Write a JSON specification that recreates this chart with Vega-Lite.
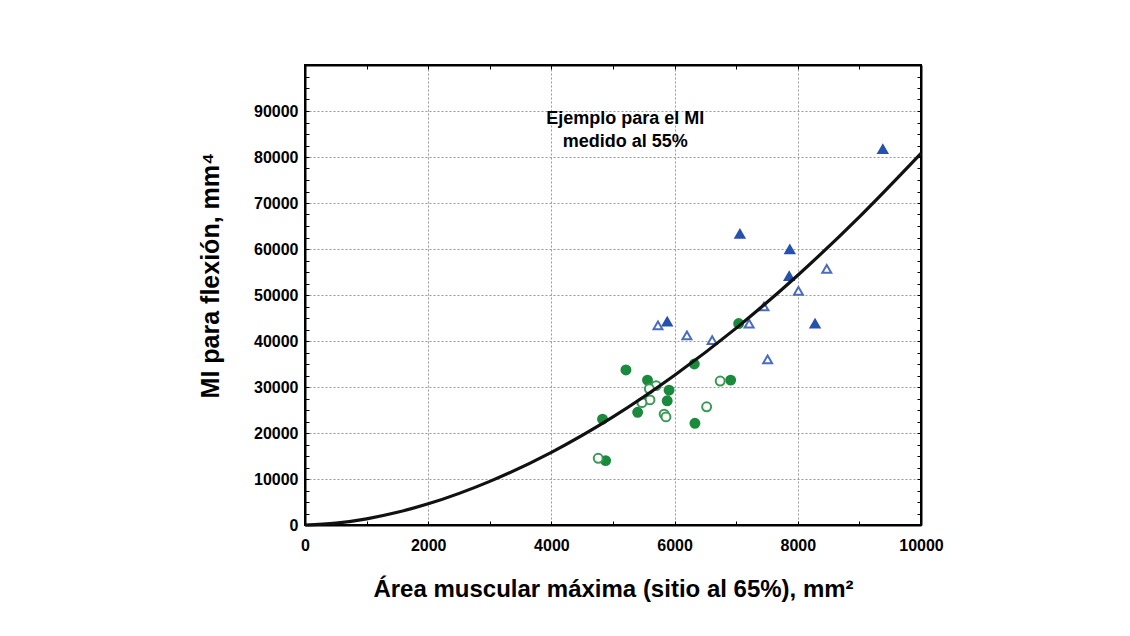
{
  "$schema": "https://vega.github.io/schema/vega-lite/v6.json",
  "width": 616,
  "height": 460,
  "autosize": "none",
  "padding": {"left": 305, "top": 65, "right": 209, "bottom": 111},
  "background": "white",
  "config": {
    "view": {"stroke": "black", "strokeWidth": 2},
    "font": "Liberation Sans"
  },
  "datasets": {
    "puntos": [
      {"area": 9380, "mi": 81700, "grupo": "azul lleno"},
      {"area": 7060, "mi": 63300, "grupo": "azul lleno"},
      {"area": 7870, "mi": 59900, "grupo": "azul lleno"},
      {"area": 7860, "mi": 54100, "grupo": "azul lleno"},
      {"area": 8280, "mi": 43800, "grupo": "azul lleno"},
      {"area": 5880, "mi": 44200, "grupo": "azul lleno"},
      {"area": 8470, "mi": 55700, "grupo": "azul abierto"},
      {"area": 8010, "mi": 50900, "grupo": "azul abierto"},
      {"area": 7450, "mi": 47500, "grupo": "azul abierto"},
      {"area": 7210, "mi": 43800, "grupo": "azul abierto"},
      {"area": 6200, "mi": 41200, "grupo": "azul abierto"},
      {"area": 6610, "mi": 40200, "grupo": "azul abierto"},
      {"area": 7510, "mi": 36000, "grupo": "azul abierto"},
      {"area": 5730, "mi": 43400, "grupo": "azul abierto"},
      {"area": 7040, "mi": 43800, "grupo": "verde lleno"},
      {"area": 6320, "mi": 35000, "grupo": "verde lleno"},
      {"area": 5210, "mi": 33700, "grupo": "verde lleno"},
      {"area": 5560, "mi": 31500, "grupo": "verde lleno"},
      {"area": 5910, "mi": 29300, "grupo": "verde lleno"},
      {"area": 5880, "mi": 27000, "grupo": "verde lleno"},
      {"area": 6910, "mi": 31500, "grupo": "verde lleno"},
      {"area": 5400, "mi": 24500, "grupo": "verde lleno"},
      {"area": 6330, "mi": 22100, "grupo": "verde lleno"},
      {"area": 4830, "mi": 23000, "grupo": "verde lleno"},
      {"area": 4880, "mi": 14000, "grupo": "verde lleno"},
      {"area": 5700, "mi": 30300, "grupo": "verde abierto"},
      {"area": 5590, "mi": 29600, "grupo": "verde abierto"},
      {"area": 5600, "mi": 27200, "grupo": "verde abierto"},
      {"area": 5470, "mi": 26600, "grupo": "verde abierto"},
      {"area": 6740, "mi": 31300, "grupo": "verde abierto"},
      {"area": 5830, "mi": 24100, "grupo": "verde abierto"},
      {"area": 5860, "mi": 23500, "grupo": "verde abierto"},
      {"area": 6520, "mi": 25700, "grupo": "verde abierto"},
      {"area": 4760, "mi": 14500, "grupo": "verde abierto"}
    ],
    "curva": [
      {"area": 0, "mi": 0},
      {"area": 500, "mi": 390},
      {"area": 1000, "mi": 1340},
      {"area": 1500, "mi": 2760},
      {"area": 2000, "mi": 4600},
      {"area": 3000, "mi": 9480},
      {"area": 4000, "mi": 15800},
      {"area": 5000, "mi": 23500},
      {"area": 6000, "mi": 32550},
      {"area": 7000, "mi": 42800},
      {"area": 8000, "mi": 54300},
      {"area": 9000, "mi": 67000},
      {"area": 10000, "mi": 80800}
    ],
    "nota": [
      {"area": 5200, "mi": 88300, "texto": "Ejemplo para el MI\nmedido al 55%"}
    ]
  },
  "resolve": {"axis": {"x": "independent", "y": "independent"}},
  "layer": [
    {
      "data": {"name": "puntos"},
      "mark": {"type": "point", "strokeWidth": 2, "opacity": 1, "size": 80},
      "encoding": {
        "x": {
          "field": "area", "type": "quantitative",
          "scale": {"domain": [0, 10000], "nice": false, "zero": false},
          "axis": {
            "orient": "bottom",
            "values": [0, 1000, 2000, 3000, 4000, 5000, 6000, 7000, 8000, 9000, 10000],
            "labelExpr": "datum.value % 2000 === 0 ? datum.value : ''",
            "labelFont": "Liberation Sans", "labelFontSize": 16, "labelFontWeight": "bold", "labelColor": "black",
            "labelPadding": 16, "labelFlush": false,
            "tickSize": -4, "tickColor": "black", "tickWidth": 1,
            "domain": true, "domainColor": "black", "domainWidth": 2,
            "grid": true, "gridColor": "#999999", "gridDash": [2, 2], "gridWidth": 1,
            "gridOpacity": {"condition": {"test": "datum.value % 2000 === 0 && datum.value > 0 && datum.value < 10000", "value": 1}, "value": 0},
            "title": "Área muscular máxima (sitio al 65%), mm²",
            "titleFont": "Liberation Sans", "titleFontSize": 24, "titleFontWeight": "bold", "titleColor": "black",
            "titlePadding": 24
          }
        },
        "y": {
          "field": "mi", "type": "quantitative",
          "scale": {"domain": [0, 100000], "nice": false, "zero": false},
          "axis": {
            "orient": "left",
            "values": [0, 2500, 5000, 7500, 10000, 12500, 15000, 17500, 20000, 22500, 25000, 27500, 30000, 32500, 35000, 37500, 40000, 42500, 45000, 47500, 50000, 52500, 55000, 57500, 60000, 62500, 65000, 67500, 70000, 72500, 75000, 77500, 80000, 82500, 85000, 87500, 90000, 92500, 95000, 97500, 100000],
            "labelExpr": "datum.value % 10000 === 0 && datum.value < 100000 ? datum.value : ''",
            "labelFont": "Liberation Sans", "labelFontSize": 16, "labelFontWeight": "bold", "labelColor": "black",
            "labelPadding": 11, "labelFlush": false,
            "tickSize": -4, "tickColor": "black", "tickWidth": 1,
            "domain": true, "domainColor": "black", "domainWidth": 2,
            "grid": true, "gridColor": "#999999", "gridDash": [2, 2], "gridWidth": 1,
            "gridOpacity": {"condition": {"test": "datum.value % 10000 === 0 && datum.value > 0 && datum.value < 100000", "value": 1}, "value": 0},
            "title": "MI para flexión, mm⁴",
            "titleFont": "Liberation Sans", "titleFontSize": 25, "titleFontWeight": "bold", "titleColor": "black",
            "titlePadding": 30,
            "titleY": 210
          }
        },
        "shape": {
          "field": "grupo", "type": "nominal", "legend": null,
          "scale": {"domain": ["azul lleno", "azul abierto", "verde lleno", "verde abierto"], "range": ["triangle-up", "triangle-up", "circle", "circle"]}
        },
        "stroke": {
          "field": "grupo", "type": "nominal", "legend": null,
          "scale": {"domain": ["azul lleno", "azul abierto", "verde lleno", "verde abierto"], "range": ["#2652ad", "#4a6cc0", "#1a8a3c", "#3a9a55"]}
        },
        "fill": {
          "field": "grupo", "type": "nominal", "legend": null,
          "scale": {"domain": ["azul lleno", "azul abierto", "verde lleno", "verde abierto"], "range": ["#2652ad", "#ffffff", "#1a8a3c", "#ffffff"]}
        }
      }
    },
    {
      "data": {"name": "curva"},
      "mark": {"type": "line", "color": "#111111", "strokeWidth": 3.2, "interpolate": "monotone"},
      "encoding": {
        "x": {
          "field": "area", "type": "quantitative",
          "axis": {
            "orient": "top",
            "values": [0, 1000, 2000, 3000, 4000, 5000, 6000, 7000, 8000, 9000, 10000],
            "labels": false, "title": null, "grid": false,
            "tickSize": -4, "tickColor": "black", "tickWidth": 1,
            "domain": true, "domainColor": "black", "domainWidth": 2
          }
        },
        "y": {
          "field": "mi", "type": "quantitative",
          "axis": {
            "orient": "right",
            "values": [0, 2500, 5000, 7500, 10000, 12500, 15000, 17500, 20000, 22500, 25000, 27500, 30000, 32500, 35000, 37500, 40000, 42500, 45000, 47500, 50000, 52500, 55000, 57500, 60000, 62500, 65000, 67500, 70000, 72500, 75000, 77500, 80000, 82500, 85000, 87500, 90000, 92500, 95000, 97500, 100000],
            "labels": false, "title": null, "grid": false,
            "tickSize": -4, "tickColor": "black", "tickWidth": 1,
            "domain": true, "domainColor": "black", "domainWidth": 2
          }
        }
      }
    },
    {
      "data": {"name": "nota"},
      "mark": {"type": "text", "font": "Liberation Sans", "fontSize": 18, "fontWeight": "bold", "color": "black", "align": "center", "baseline": "middle", "lineBreak": "\n", "lineHeight": 23},
      "encoding": {
        "x": {"field": "area", "type": "quantitative", "axis": null},
        "y": {"field": "mi", "type": "quantitative", "axis": null},
        "text": {"field": "texto"}
      }
    }
  ]
}
